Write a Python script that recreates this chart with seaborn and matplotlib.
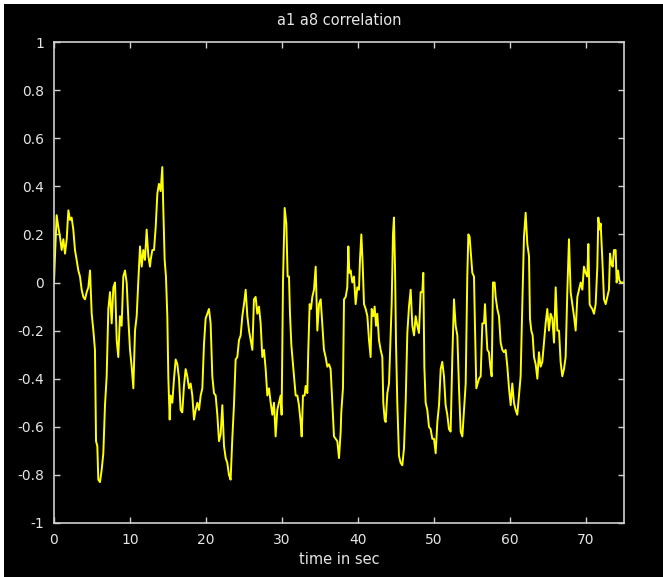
import matplotlib
matplotlib.use("Agg")
import matplotlib.pyplot as plt
from matplotlib.patches import Rectangle
import seaborn as sns
import pandas as pd

title = "a1 a8 correlation"
xlabel = "time in sec"
xticks = [0, 10, 20, 30, 40, 50, 60, 70]
yticks = [-1, -0.8, -0.6, -0.4, -0.2, 0, 0.2, 0.4, 0.6, 0.8, 1]
ytick_labels = ["-1", "-0.8", "-0.6", "-0.4", "-0.2", "0", "0.2", "0.4", "0.6", "0.8", "1"]

time_sec = [
    0.0, 0.13, 0.35, 0.57, 0.79, 1.01, 1.23, 1.45, 1.67, 1.89, 2.11, 2.32, 2.54, 2.76, 2.98,
    3.2, 3.42, 3.64, 3.86, 4.08, 4.3, 4.52, 4.74, 4.96, 5.18, 5.39, 5.53, 5.7, 5.83, 6.05,
    6.27, 6.49, 6.71, 6.93, 7.15, 7.37, 7.59, 7.81, 8.03, 8.25, 8.46, 8.68, 8.9, 9.12, 9.34,
    9.56, 9.78, 10.0, 10.22, 10.44, 10.66, 10.88, 11.1, 11.32, 11.54, 11.75, 11.97, 12.19, 12.41, 12.63,
    12.72, 12.94, 13.16, 13.38, 13.6, 13.81, 14.03, 14.25, 14.38, 14.56, 14.73, 14.91, 15.04, 15.22, 15.35,
    15.57, 15.79, 16.01, 16.23, 16.45, 16.66, 16.88, 17.1, 17.32, 17.54, 17.76, 17.98, 18.2, 18.42, 18.64,
    18.86, 19.08, 19.3, 19.52, 19.73, 19.95, 20.17, 20.39, 20.61, 20.83, 21.05, 21.27, 21.49, 21.71, 21.93,
    22.15, 22.37, 22.59, 22.8, 23.02, 23.24, 23.46, 23.68, 23.9, 24.12, 24.34, 24.56, 24.78, 25.0,
    25.22, 25.44, 25.66, 25.88, 26.1, 26.31, 26.53, 26.75, 26.97, 27.19, 27.41, 27.63, 27.85, 28.07, 28.29,
    28.51, 28.73, 28.95, 29.16, 29.38, 29.6, 29.82, 29.95, 30.13, 30.35, 30.57, 30.74, 30.92, 31.05, 31.23,
    31.36, 31.58, 31.8, 32.02, 32.23, 32.45, 32.59, 32.76, 32.98, 33.11, 33.33, 33.46, 33.64, 33.81, 33.99,
    34.21, 34.43, 34.65, 34.87, 35.09, 35.3, 35.52, 35.74, 35.96, 36.18, 36.4, 36.62, 36.84, 37.06, 37.28, 37.5,
    37.72, 37.8, 38.02, 38.16, 38.38, 38.59, 38.73, 38.86, 39.03, 39.25, 39.47, 39.69, 39.91, 40.13, 40.26,
    40.44, 40.61, 40.79, 41.01, 41.23, 41.45, 41.66, 41.8, 42.02, 42.19, 42.37, 42.54, 42.76, 42.98, 43.2,
    43.33, 43.51, 43.64, 43.86, 44.08, 44.3, 44.43, 44.6, 44.73, 44.87, 45.0, 45.17, 45.39, 45.61, 45.83,
    46.05, 46.27, 46.49, 46.71, 46.93, 47.15, 47.37, 47.59, 47.81, 48.02, 48.24, 48.46, 48.59, 48.73, 48.9,
    49.12, 49.34, 49.56, 49.78, 50.0,
    50.22, 50.44, 50.66, 50.88, 51.09, 51.31, 51.53, 51.75, 51.97, 52.19, 52.41, 52.63, 52.85, 53.07, 53.29,
    53.51, 53.73, 53.95, 54.17, 54.38, 54.52, 54.69, 54.87, 55.04, 55.26, 55.39, 55.57, 55.74, 55.92, 56.14,
    56.36, 56.58, 56.71, 56.88, 57.02, 57.23, 57.41, 57.59, 57.76, 57.98, 58.11, 58.33, 58.55, 58.77, 58.99,
    59.21, 59.43, 59.65, 59.87, 60.09, 60.3, 60.52, 60.74, 60.96, 61.18, 61.4, 61.62, 61.84, 62.06, 62.28, 62.5,
    62.63, 62.8, 62.98, 63.16, 63.38, 63.6, 63.81, 64.03, 64.25, 64.47, 64.69, 64.91, 65.13, 65.35, 65.57,
    65.79, 66.01, 66.23, 66.45, 66.66, 66.88, 67.1, 67.32, 67.54, 67.76, 67.98, 68.2, 68.42, 68.64, 68.86,
    69.08, 69.3, 69.52, 69.73, 69.95, 70.17, 70.31, 70.48, 70.61, 70.83, 71.05, 71.27, 71.49, 71.62, 71.8,
    71.93, 72.15, 72.37, 72.59, 72.8, 73.02, 73.16, 73.33, 73.51, 73.68, 73.9, 74.03, 74.21, 74.38, 74.56, 74.78, 75.0,
]

correlation = [
    0.0, 0.11, 0.28, 0.23, 0.19, 0.135, 0.18, 0.12, 0.18, 0.30, 0.26, 0.27, 0.22, 0.135, 0.094,
    0.05, 0.025, -0.03, -0.06, -0.07, -0.04, -0.02, 0.05, -0.13, -0.2, -0.28, -0.66, -0.68, -0.82, -0.83,
    -0.78, -0.71, -0.51, -0.39, -0.11, -0.04, -0.17, -0.02, 0.0, -0.24, -0.31, -0.14, -0.18, 0.025, 0.05,
    0.0, -0.15, -0.28, -0.35, -0.44, -0.2, -0.14, 0.01, 0.15, 0.066, 0.135, 0.094, 0.22, 0.11, 0.066,
    0.094, 0.135, 0.135, 0.23, 0.37, 0.41, 0.38, 0.48, 0.31, 0.094, 0.025, -0.14, -0.39, -0.57, -0.47,
    -0.5, -0.4, -0.32, -0.34, -0.4, -0.53, -0.54, -0.43, -0.36, -0.39, -0.44, -0.42, -0.47, -0.57, -0.53,
    -0.5, -0.53, -0.47, -0.44, -0.26, -0.15, -0.13, -0.11, -0.17, -0.39, -0.46, -0.47, -0.55, -0.66, -0.63,
    -0.51, -0.68, -0.73, -0.75, -0.8, -0.82, -0.65, -0.51, -0.32, -0.31, -0.24, -0.22, -0.14, -0.09,
    -0.03, -0.14, -0.2, -0.24, -0.28, -0.07, -0.06, -0.13, -0.1, -0.17, -0.31, -0.28, -0.36, -0.47, -0.44,
    -0.5, -0.55, -0.5, -0.64, -0.53, -0.5, -0.47, -0.55, 0.0, 0.31, 0.245, 0.025, 0.025, -0.13, -0.26,
    -0.31, -0.39, -0.47, -0.47, -0.51, -0.58, -0.64, -0.47, -0.47, -0.43, -0.46, -0.28, -0.09, -0.11, -0.06,
    -0.03, 0.066, -0.2, -0.09, -0.07, -0.17, -0.28, -0.31, -0.35, -0.34, -0.36, -0.5, -0.64, -0.65, -0.66, -0.73,
    -0.62, -0.54, -0.44, -0.07, -0.06, -0.02, 0.15, 0.04, 0.05, 0.0, 0.025, -0.09, -0.02, -0.03, 0.094,
    0.2, 0.08, -0.09, -0.11, -0.14, -0.24, -0.31, -0.11, -0.14, -0.1, -0.18, -0.13, -0.24, -0.28, -0.31,
    -0.5, -0.57, -0.58, -0.46, -0.42, -0.21, -0.09, 0.2, 0.27, 0.066, -0.25, -0.5, -0.72, -0.75, -0.76,
    -0.69, -0.5, -0.21, -0.1, -0.03, -0.18, -0.22, -0.14, -0.18, -0.21, -0.04, -0.04, 0.04, -0.35, -0.5,
    -0.53, -0.6, -0.61, -0.65, -0.65,
    -0.71, -0.58, -0.51, -0.36, -0.33, -0.39, -0.51, -0.55, -0.61, -0.62, -0.31, -0.07, -0.18, -0.22, -0.44,
    -0.62, -0.64, -0.53, -0.42, 0.025, 0.2, 0.19, 0.11, 0.04, 0.025, -0.18, -0.44, -0.42, -0.4, -0.39,
    -0.17, -0.17, -0.09, -0.2, -0.28, -0.29, -0.35, -0.39, 0.0, 0.0, -0.06, -0.11, -0.14, -0.25, -0.28,
    -0.29, -0.28, -0.35, -0.44, -0.51, -0.42, -0.5, -0.53, -0.55, -0.47, -0.39, -0.09, 0.19, 0.29, 0.16, 0.11,
    -0.15, -0.2, -0.22, -0.31, -0.34, -0.4, -0.29, -0.35, -0.33, -0.25, -0.17, -0.11, -0.2, -0.13, -0.15,
    -0.25, -0.02, -0.2, -0.2, -0.33, -0.39, -0.36, -0.31, -0.04, 0.18, -0.04, -0.09, -0.14, -0.2, -0.06,
    -0.03, 0.0, -0.03, 0.066, 0.04, 0.025, 0.16, -0.09, -0.1, -0.11, -0.13, -0.09, 0.066, 0.27, 0.22,
    0.245, 0.094, -0.07, -0.09, -0.06, -0.03, 0.12, 0.08, 0.066, 0.135, 0.135, 0.0, 0.05, 0.01, 0.0, 0.0, 0.0,
]

df = pd.DataFrame({"t": time_sec, "r": correlation})

sns.set_theme(style="dark")
plt.rcParams["font.family"] = ["DejaVu Sans"]
plt.rcParams["axes.unicode_minus"] = False

W, H = 663, 577
fig = plt.figure(figsize=(W / 100, H / 100), dpi=100)
fig.patch.set_facecolor("white")
fig.add_artist(Rectangle((4 / W, 0), 1 - 4 / W, 1 - 4 / H, transform=fig.transFigure,
                         facecolor="black", edgecolor="none", zorder=-10))

ax = fig.add_axes([54 / W, (H - 523) / H, 570 / W, 481 / H])
ax.set_facecolor("black")

sns.lineplot(data=df, x="t", y="r", ax=ax, color="#FFFF00", linewidth=1.4,
             estimator=None, sort=False)

ax.set_xlim(0, 75)
ax.set_ylim(-1, 1)
ax.set_xticks(xticks)
ax.set_xticklabels([str(v) for v in xticks])
ax.set_yticks(yticks)
ax.set_yticklabels(ytick_labels)
ax.grid(False)

fg = "#e6e6e6"
for s in ax.spines.values():
    s.set_visible(True)
    s.set_color("#d0d0d0")
    s.set_linewidth(1.2)
ax.tick_params(direction="in", length=4, width=1, color="#d0d0d0",
               top=True, right=True, bottom=True, left=True,
               labelcolor=fg, labelsize=10, pad=7)
ax.tick_params(axis="y", pad=7)
ax.set_title(title, color=fg, fontsize=10.5, pad=12)
ax.set_xlabel(xlabel, color=fg, fontsize=10.5, labelpad=4)
ax.set_ylabel("")

fig.savefig("out.png", dpi=100, facecolor=fig.get_facecolor())
